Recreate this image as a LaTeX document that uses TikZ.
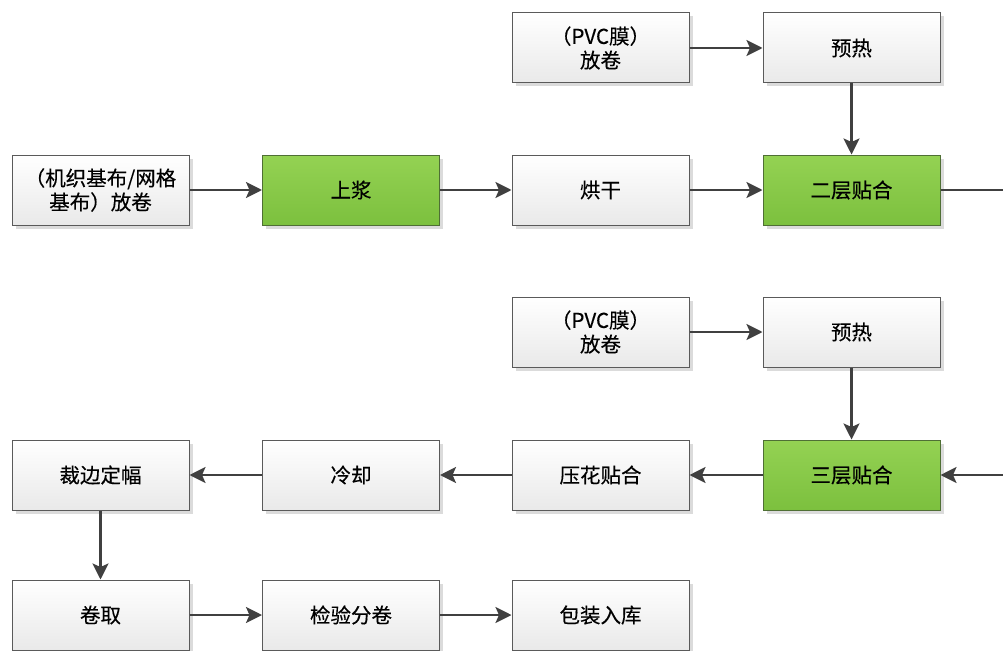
\documentclass[tikz,border=0pt]{standalone}
\usepackage{fontspec}
\setmainfont{Noto Sans CJK SC}[FakeBold=0.3]
\usetikzlibrary{arrows.meta,shadows}
\definecolor{boxline}{HTML}{5A5A5A}
\definecolor{greenline}{HTML}{4F6F35}
\definecolor{greentop}{HTML}{94D253}
\definecolor{greenbot}{HTML}{7CC03E}
\definecolor{graybot}{HTML}{E9E9E9}
\definecolor{arrowcol}{HTML}{404040}
\tikzset{
  proc/.style={draw=boxline, line width=1pt, shading=axis, top color=white, bottom color=graybot,
    minimum width=177pt, minimum height=70pt, inner sep=0pt, align=center,
    font=\fontsize{20.5}{24}\selectfont,
    drop shadow={shadow xshift=3.5pt, shadow yshift=-3.5pt, fill=black!14, opacity=1}},
  keyproc/.style={proc, draw=greenline, top color=greentop, bottom color=greenbot},
  flow/.style={draw=arrowcol, line width=2.5pt, -{Stealth[length=16pt,width=16pt,inset=3.5pt]}},
  plain/.style={draw=arrowcol, line width=2.5pt}
}
\begin{document}
\begin{tikzpicture}[x=1pt,y=-1pt]
\useasboundingbox (0,0) rectangle (1003,650);
% row 1
\node[proc] (pvca) at (600.5,48) {（PVC膜）\\放卷};
\node[proc] (prea) at (851.5,48) {预热};
% row 2
\node[proc] (src) at (100.5,190) {（机织基布/网格\\基布）放卷};
\node[keyproc] (size) at (351,190) {上浆};
\node[proc] (dry) at (600.5,190) {烘干};
\node[keyproc] (lamb) at (851.5,190) {二层贴合};
% row 3
\node[proc] (pvcb) at (600.5,332) {（PVC膜）\\放卷};
\node[proc] (preb) at (851.5,332) {预热};
% row 4
\node[proc] (trim) at (100.5,475) {裁边定幅};
\node[proc] (cool) at (351,475) {冷却};
\node[proc] (emb) at (600.5,475) {压花贴合};
\node[keyproc] (lamc) at (851.5,475) {三层贴合};
% row 5
\node[proc] (wind) at (100.5,615) {卷取};
\node[proc] (insp) at (351,615) {检验分卷};
\node[proc] (pack) at (600.5,615) {包装入库};
% free ends
\coordinate (outr) at (1004,190);
\coordinate (inr) at (1004,475);
% connectors
\draw[flow] (pvca) -- (prea);
\draw[flow] (prea) -- (lamb);
\draw[flow] (src) -- (size);
\draw[flow] (size) -- (dry);
\draw[flow] (dry) -- (lamb);
\draw[plain] (lamb.east) -- (outr);
\draw[flow] (inr) -- (lamc.east);
\draw[flow] (pvcb) -- (preb);
\draw[flow] (preb) -- (lamc);
\draw[flow] (lamc) -- (emb);
\draw[flow] (emb) -- (cool);
\draw[flow] (cool) -- (trim);
\draw[flow] (trim) -- (wind);
\draw[flow] (wind) -- (insp);
\draw[flow] (insp) -- (pack);
\end{tikzpicture}
\end{document}
